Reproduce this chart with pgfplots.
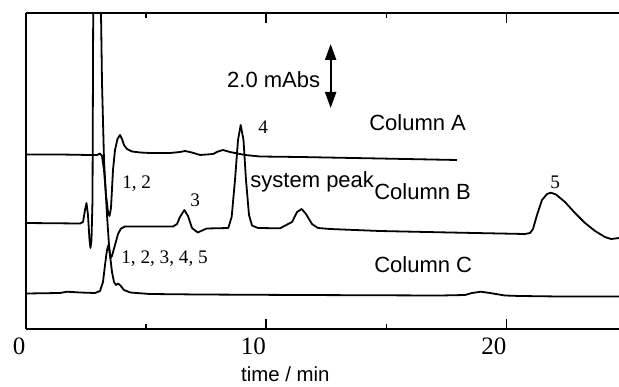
\documentclass[border=0pt]{standalone}
\usepackage{fontspec}
\setmainfont{Liberation Serif}
\setsansfont{Liberation Sans}
\usepackage{pgfplots}
\pgfplotsset{compat=1.18}
\usetikzlibrary{arrows.meta}
\begin{document}
\begin{tikzpicture}
\begin{axis}[
  scale only axis, width=296.65pt, height=158pt,
  xmin=0, xmax=24.67, ymin=57, ymax=373,
  axis x line*=box, axis y line*=left,
  ytick=\empty,
  xtick={0,10,20}, minor xtick={5,15},
  major tick length=5pt, minor tick length=2.5pt,
  tick align=inside,
  every tick/.style={black, line width=0.8pt},
  axis line style={line width=1pt},
  x tick label style={anchor=north east, inner sep=0pt, yshift=-4pt, font=\fontsize{12.5}{14}\selectfont},
  /pgf/number format/assume math mode=true,
  clip mode=individual,
]
% Column A
\addplot[black, line width=0.9pt, no marks, line join=round] coordinates {
(0,231.5) (1.426,231.5) (2.674,231) (2.965,231) (3.090,232.5) (3.173,230)
(3.256,216) (3.339,191) (3.422,174) (3.484,170) (3.547,178) (3.630,216)
(3.713,236) (3.817,247) (3.921,251) (4.004,247) (4.087,241) (4.212,237)
(4.420,234.5) (4.753,233.5) (5.168,233) (6.000,233) (6.416,234) (6.624,235)
(6.915,233.5) (7.248,231) (7.789,232) (7.996,234.5) (8.204,236) (8.495,234)
(9.119,231) (9.743,229.5) (11.406,229) (14.732,227.5) (17.933,226)
};
% Column B
\addplot[black, line width=0.9pt, no marks, line join=round] coordinates {
(0,163) (2.258,162.5) (2.383,164) (2.466,176) (2.528,183) (2.590,171)
(2.653,146) (2.694,138) (2.736,146) (2.778,186) (2.790,266) (2.807,373)
(2.881,536) (2.965,636) (3.048,536) (3.131,373) (3.173,303) (3.256,226)
(3.380,171) (3.464,141) (3.526,128) (3.588,130) (3.713,141) (3.838,152)
(3.963,157.5) (4.129,159.5) (4.345,159.5) (5.168,159.5) (6.125,159.5)
(6.292,162) (6.416,169) (6.595,176) (6.749,170) (6.915,158) (7.152,153.5)
(7.526,157.5) (8.424,158) (8.565,169.3) (8.703,206) (8.828,246) (8.940,261)
(9.056,246) (9.160,206) (9.285,171) (9.410,160.5) (9.659,158) (10.574,157.7)
(11.073,164) (11.281,174) (11.476,177) (11.655,172) (11.904,162) (12.154,158)
(12.653,157) (14.732,155) (17.643,153.5) (20.761,152) (20.969,153)
(21.094,157) (21.260,171) (21.468,186) (21.676,192) (21.842,193.3)
(22.050,191.5) (22.424,184) (22.840,173) (23.256,163) (23.672,155)
(24.087,149) (24.337,147) (24.670,148)
};
% Column C
\addplot[black, line width=0.9pt, no marks, line join=round] coordinates {
(0,92.5) (1.426,93) (1.717,94.3) (2.258,93.5) (2.882,93) (3.090,95)
(3.214,104) (3.297,121) (3.380,136) (3.443,141) (3.505,131) (3.588,114)
(3.671,104) (3.755,101) (3.838,102.5) (3.921,101) (4.087,96) (4.345,93.5)
(5.168,92) (7.248,91.5) (11.406,91) (17.227,90.5) (18.266,91) (18.557,93)
(18.931,94.3) (19.305,93) (19.929,90.5) (20.552,90) (22.216,89.5) (24.670,89.5)
};
\begin{scope}[every node/.style={inner sep=0pt, anchor=base west}]
\node[font=\sffamily\fontsize{11}{13}\selectfont] at (axis cs:8.36,298.5) {2.0 mAbs};
\node[font=\sffamily\fontsize{11}{13}\selectfont] at (axis cs:14.27,255) {Column A};
\node[font=\sffamily\fontsize{11}{13}\selectfont] at (axis cs:9.33,198) {system peak};
\node[font=\sffamily\fontsize{11}{13}\selectfont] at (axis cs:14.48,186) {Column B};
\node[font=\sffamily\fontsize{11}{13}\selectfont] at (axis cs:14.48,113.3) {Column C};
\node[font=\sffamily\fontsize{10.2}{12}\selectfont] at (axis cs:8.94,4.3) {time / min};
\node[font=\fontsize{9.6}{11}\selectfont] at (axis cs:9.66,252) {4};
\node[font=\fontsize{9.6}{11}\selectfont] at (axis cs:4.0,197.7) {1, 2};
\node[font=\fontsize{9.6}{11}\selectfont] at (axis cs:6.83,179.3) {3};
\node[font=\fontsize{9.6}{11}\selectfont] at (axis cs:21.80,197.7) {5};
\node[font=\fontsize{9.6}{11}\selectfont] at (axis cs:3.96,122.7) {1, 2, 3, 4, 5};
\end{scope}
\draw[line width=1pt, {Triangle[length=8pt,width=5.5pt]}-{Triangle[length=8pt,width=5.5pt]}] (axis cs:12.68,342) -- (axis cs:12.68,278);
\coordinate (bl) at (rel axis cs:0,0);
\coordinate (tr) at (rel axis cs:1,1);
\end{axis}
\pgfresetboundingbox
\path[use as bounding box] ([xshift=-12.85pt,yshift=-28.5pt]bl) rectangle ([yshift=6.5pt]tr);
\end{tikzpicture}
\end{document}
